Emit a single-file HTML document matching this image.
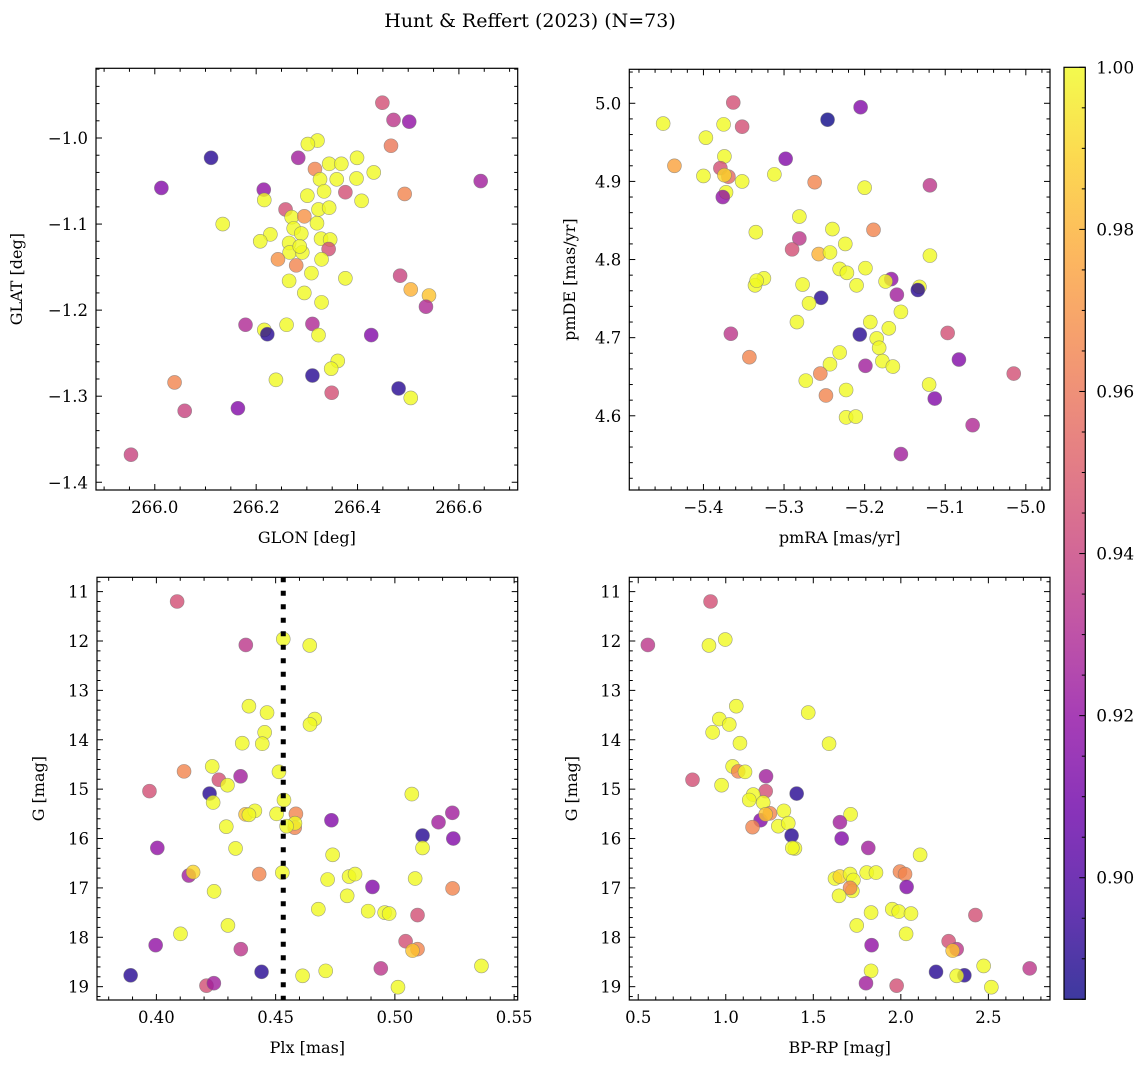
<!DOCTYPE html>
<html><head><meta charset="utf-8">
<style>
html,body{margin:0;padding:0;background:#fff;}
svg{display:block;font-family:"DejaVu Serif","Liberation Serif",serif;}
</style></head>
<body>
<svg id="fig" width="1148" height="1067" viewBox="0 0 1148 1067" xmlns="http://www.w3.org/2000/svg">
<text x="530" y="27" font-size="19" text-anchor="middle">Hunt &amp; Reffert (2023) (N=73)</text>
</svg>
<script>
// ---- Panel 1: GLON vs GLAT ----
const glon1 = [266.449,266.471,266.502,266.466,266.321,266.302,266.111,266.283,266.316,266.344,266.368,266.399,266.432,266.326,266.359,266.398,266.643,266.013,266.215,266.216,266.376,266.493,266.301,266.334,266.408,266.323,266.344,266.258,266.270,266.295,266.320,266.134,266.274,266.289,266.228,266.208,266.265,266.328,266.346,266.343,266.266,266.291,266.286,266.243,266.279,266.329,266.309,266.376,266.265,266.484,266.505,266.541,266.535,266.295,266.329,266.179,266.216,266.222,266.260,266.311,266.323,266.427,266.361,266.348,266.239,266.311,266.349,266.481,266.505,266.039,266.059,266.164,265.953];
const glat1 = [-0.959,-0.979,-0.981,-1.009,-1.003,-1.007,-1.023,-1.023,-1.036,-1.030,-1.030,-1.023,-1.040,-1.048,-1.048,-1.047,-1.050,-1.058,-1.060,-1.072,-1.063,-1.065,-1.067,-1.062,-1.073,-1.083,-1.081,-1.083,-1.092,-1.091,-1.099,-1.100,-1.105,-1.111,-1.112,-1.120,-1.122,-1.117,-1.118,-1.129,-1.133,-1.133,-1.126,-1.141,-1.148,-1.141,-1.157,-1.163,-1.166,-1.160,-1.176,-1.183,-1.196,-1.180,-1.191,-1.217,-1.223,-1.228,-1.217,-1.216,-1.229,-1.229,-1.259,-1.268,-1.281,-1.276,-1.296,-1.291,-1.302,-1.284,-1.317,-1.314,-1.368];
const prob1 = [.945,.935,.92,.96,1,1,.89,.925,.965,1,1,1,1,1,1,1,.925,.915,.92,1,.945,.965,1,1,1,1,1,.945,1,.97,1,1,1,1,1,1,1,1,1,.945,1,1,1,.97,.965,1,1,1,1,.94,.98,.985,.93,1,1,.93,1,.89,1,.93,1,.915,1,1,1,.89,.945,.89,1,.965,.94,.915,.94];
const xticks1 = ["266.0","266.2","266.4","266.6"];
const yticks1 = ["−1.0","−1.1","−1.2","−1.3","−1.4"];

// ---- Panel 2: pmRA vs pmDE ----
const pmra2 = [-5.450,-5.363,-5.352,-5.375,-5.397,-5.374,-5.436,-5.400,-5.379,-5.369,-5.374,-5.352,-5.372,-5.376,-5.312,-5.298,-5.246,-5.205,-5.262,-5.200,-5.119,-5.281,-5.335,-5.240,-5.189,-5.281,-5.290,-5.257,-5.243,-5.224,-5.119,-5.231,-5.222,-5.199,-5.325,-5.336,-5.334,-5.277,-5.210,-5.167,-5.174,-5.132,-5.134,-5.160,-5.254,-5.269,-5.155,-5.193,-5.284,-5.170,-5.206,-5.366,-5.097,-5.185,-5.182,-5.231,-5.343,-5.243,-5.178,-5.165,-5.199,-5.083,-5.255,-5.273,-5.015,-5.120,-5.223,-5.248,-5.113,-5.223,-5.211,-5.066,-5.155];
const pmde2 = [4.974,5.001,4.970,4.973,4.956,4.932,4.920,4.907,4.917,4.906,4.908,4.900,4.886,4.880,4.909,4.929,4.979,4.995,4.899,4.892,4.895,4.855,4.835,4.839,4.838,4.827,4.813,4.807,4.809,4.820,4.805,4.788,4.783,4.789,4.776,4.767,4.773,4.768,4.767,4.775,4.772,4.765,4.761,4.755,4.751,4.744,4.733,4.720,4.720,4.712,4.704,4.705,4.706,4.699,4.687,4.681,4.675,4.666,4.670,4.663,4.664,4.672,4.654,4.645,4.654,4.640,4.633,4.626,4.622,4.598,4.599,4.588,4.551];
const prob2 = [1,.945,.945,1,1,1,.975,1,.945,.955,.99,1,1,.92,1,.915,.885,.915,.965,1,.935,1,1,1,.965,.935,.945,.98,1,1,1,1,1,1,1,1,1,1,1,.92,1,1,.89,.925,.89,1,1,1,1,1,.89,.935,.945,1,1,1,.965,1,1,1,.925,.915,.965,1,.945,1,1,.965,.915,1,1,.93,.925];
const xticks2 = ["−5.4","−5.3","−5.2","−5.1","−5.0"];
const yticks2 = ["5.0","4.9","4.8","4.7","4.6"];

// ---- Panel 3: Plx vs G ----
const plx3 = [0.4087,0.4375,0.4532,0.4643,0.4388,0.4464,0.4664,0.4644,0.4454,0.4360,0.4444,0.4234,0.4116,0.4353,0.4262,0.4298,0.4514,0.3971,0.4223,0.4238,0.4535,0.4374,0.4413,0.4504,0.4585,0.4580,0.4581,0.4546,0.4734,0.5071,0.5241,0.5183,0.5116,0.5245,0.5116,0.4293,0.4004,0.4332,0.4739,0.4136,0.4154,0.4431,0.4528,0.4718,0.4808,0.4833,0.4906,0.5085,0.5242,0.4242,0.4800,0.4679,0.4888,0.4957,0.4976,0.5095,0.4300,0.4101,0.3997,0.4354,0.5045,0.5095,0.5074,0.5363,0.3892,0.4441,0.4613,0.4710,0.4941,0.4210,0.4241,0.5013,0.4388];
const gmag3 = [11.20,12.08,11.96,12.09,13.32,13.45,13.58,13.69,13.85,14.07,14.08,14.54,14.64,14.74,14.81,14.92,14.65,15.04,15.09,15.27,15.22,15.51,15.44,15.50,15.50,15.78,15.69,15.75,15.63,15.10,15.48,15.67,15.94,16.00,16.19,15.76,16.19,16.20,16.33,16.75,16.68,16.72,16.69,16.83,16.77,16.72,16.98,16.81,17.01,17.07,17.16,17.43,17.47,17.50,17.52,17.55,17.76,17.93,18.16,18.24,18.08,18.24,18.27,18.58,18.77,18.70,18.78,18.68,18.63,18.98,18.93,19.01,15.52];
const prob3 = [.945,.935,1,1,1,1,1,1,1,1,1,1,.965,.925,.945,1,1,.945,.89,1,1,.985,1,1,.965,.965,1,1,.915,1,.925,.925,.89,.915,1,1,.92,1,1,.925,.99,.965,1,1,1,1,.915,1,.965,1,1,1,1,1,1,.945,1,1,.92,.935,.945,.965,.985,1,.89,.89,1,1,.935,.945,.925,1,1];
const plxLine = [0.4532];
const xticks3 = ["0.40","0.45","0.50","0.55"];
const yticks3 = ["11","12","13","14","15","16","17","18","19"];

// ---- Panel 4: BP-RP vs G ----
const bprp4 = [0.913,0.555,0.904,0.997,1.060,0.963,1.020,0.925,1.471,1.081,1.590,1.039,1.071,1.110,1.230,0.810,0.976,1.228,1.405,1.157,1.134,1.214,1.199,1.252,1.228,1.332,1.153,1.300,1.357,1.713,1.652,1.376,1.662,1.395,1.380,1.814,2.110,1.624,1.652,1.710,1.729,1.805,1.858,1.995,2.024,2.033,1.723,1.710,1.647,1.830,1.951,1.988,2.058,1.748,2.030,1.833,2.273,2.319,2.296,2.426,2.473,2.201,2.363,2.319,1.830,2.736,1.801,1.976,2.517];
const gmag4 = [11.20,12.08,12.09,11.97,13.32,13.58,13.69,13.85,13.45,14.07,14.08,14.54,14.64,14.65,14.74,14.81,14.92,15.04,15.09,15.11,15.22,15.27,15.63,15.49,15.51,15.44,15.77,15.75,15.69,15.51,15.67,15.94,16.00,16.20,16.19,16.19,16.33,16.81,16.77,16.72,16.84,16.69,16.69,16.67,16.72,16.98,17.06,17.00,17.16,17.50,17.43,17.48,17.52,17.76,17.93,18.16,18.08,18.24,18.27,17.55,18.58,18.70,18.77,18.78,18.68,18.63,18.93,18.98,19.01];
const prob4 = [.945,.935,1,1,1,1,1,1,1,1,1,1,.965,1,.925,.945,1,.945,.89,1,1,1,.915,.965,.985,1,.965,1,1,1,.925,.89,.915,1,1,.925,1,1,.99,1,1,1,1,.965,.965,.915,1,.965,1,1,1,1,1,1,1,.92,.945,.935,.985,.945,1,.89,.89,1,1,.935,.925,.945,1];
const xticks4 = ["0.5","1.0","1.5","2.0","2.5"];
const yticks4 = yticks3;

const cbTicks = ["0.90","0.92","0.94","0.96","0.98","1.00"];
</script>
<script>
const NS="http://www.w3.org/2000/svg";
const svg=document.getElementById('fig');
function mk(tag,attrs,parent){const e=document.createElementNS(NS,tag);for(const k in attrs)e.setAttribute(k,attrs[k]);(parent||svg).appendChild(e);return e;}
const VMIN=0.885,VMAX=1.0;
const stops=[[13,8,135],[65,4,157],[106,0,168],[143,13,164],[177,42,144],[204,71,120],[225,100,98],[242,132,75],[252,166,54],[252,206,37],[240,249,33]];
function plasma(t){t=Math.max(0,Math.min(1,t));const f=t*10,i=Math.min(9,Math.floor(f)),r=f-i;const a=stops[i],b=stops[i+1];
 return 'rgb('+[0,1,2].map(k=>Math.round(a[k]+(b[k]-a[k])*r)).join(',')+')';}

function panel(o){
 const g=mk('g',{});
 
 
 const sx=v=>o.L+(v-o.x0)/(o.x1-o.x0)*(o.R-o.L);
 const sy=v=>o.T+(o.y1-v)/(o.y1-o.y0)*(o.B-o.T);
 const pg=mk('g',{},g);
 
 
 for(let i=0;i<o.xs.length;i++){
  const c=mk('circle',{cx:sx(o.xs[i]),cy:sy(o.ys[i]),r:7,fill:plasma((o.cs[i]-VMIN)/(VMAX-VMIN)),'fill-opacity':0.8,stroke:'#777','stroke-opacity':0.7,'stroke-width':0.6},pg);
  
  
 }
 if(o.vline){for(const v of o.vline){const l=mk('line',{x1:sx(v),x2:sx(v),y1:o.T,y2:o.B,stroke:'#000','stroke-width':5,'stroke-dasharray':'5,8.5'},g);
  
  }}
 const fr=mk('rect',{x:o.L,y:o.T,width:o.R-o.L,height:o.B-o.T,fill:'none',stroke:'#000','stroke-width':1.2},g);
 
 
 const tk=mk('g',{stroke:'#000','stroke-width':1},g);
 const eps=1e-9;
 for(let v=Math.ceil(o.x0/o.xmin-eps)*o.xmin; v<=o.x1+eps; v+=o.xmin){
  const x=sx(v); const major=Math.abs(v/o.xmaj-Math.round(v/o.xmaj))<1e-4; const len=major?6:3.5;
  mk('line',{x1:x,x2:x,y1:o.B,y2:o.B-len},tk); mk('line',{x1:x,x2:x,y1:o.T,y2:o.T+len},tk);}
 for(let v=Math.ceil(o.y0/o.ymin-eps)*o.ymin; v<=o.y1+eps; v+=o.ymin){
  const y=sy(v); const major=Math.abs(v/o.ymaj-Math.round(v/o.ymaj))<1e-4; const len=major?6:3.5;
  mk('line',{x1:o.L,x2:o.L+len,y1:y,y2:y},tk); mk('line',{x1:o.R,x2:o.R-len,y1:y,y2:y},tk);}
 o.xlab.forEach((s,i)=>{const t=mk('text',{x:sx(o.xstart+i*o.xmaj),y:o.B+23,'font-size':16.5,'text-anchor':'middle'},g);t.textContent=s;
  });
 o.ylab.forEach((s,i)=>{const t=mk('text',{x:o.L-8,y:sy(o.ystart+i*o.ydir*o.ymaj)+6,'font-size':16.5,'text-anchor':'end'},g);t.textContent=s;
  });
 const xt=mk('text',{x:(o.L+o.R)/2,y:o.B+53,'font-size':16,'text-anchor':'middle'},g);xt.textContent=o.xtitle;
 
 const yx=o.ytx, yy=(o.T+o.B)/2;
 const yt=mk('text',{x:yx,y:yy,'font-size':16,'text-anchor':'middle',transform:'rotate(-90 '+yx+' '+yy+')'},g);yt.textContent=o.ytitle;
 
}

panel({name:'glon-glat-panel',L:96,R:517.7,T:68.3,B:490,x0:265.884,x1:266.716,y0:-1.409,y1:-0.919,
 xmin:0.05,xmaj:0.2,ymin:0.02,ymaj:0.1,xs:glon1,ys:glat1,cs:prob1,xlab:xticks1,xstart:266.0,ylab:yticks1,ystart:-1.0,ydir:-1,
 xtitle:'GLON [deg]',ytitle:'GLAT [deg]',ytx:22});
panel({name:'proper-motion-panel',L:629.3,R:1050,T:69.3,B:490,x0:-5.492,x1:-4.970,y0:4.505,y1:5.0435,
 xmin:0.02,xmaj:0.1,ymin:0.02,ymaj:0.1,xs:pmra2,ys:pmde2,cs:prob2,xlab:xticks2,xstart:-5.4,ylab:yticks2,ystart:5.0,ydir:-1,
 xtitle:'pmRA [mas/yr]',ytitle:'pmDE [mas/yr]',ytx:575});
panel({name:'parallax-magnitude-panel',L:97,R:517.7,T:577.3,B:1000,x0:0.3751,x1:0.5515,y0:-19.27,y1:-10.71,
 xmin:0.01,xmaj:0.05,ymin:0.2,ymaj:1,xs:plx3,ys:gmag3.map(v=>-v),cs:prob3,xlab:xticks3,xstart:0.40,ylab:yticks3,ystart:-11,ydir:-1,vline:plxLine,
 xtitle:'Plx [mas]',ytitle:'G [mag]',ytx:44});
panel({name:'color-magnitude-panel',L:629.3,R:1050,T:577.3,B:1000,x0:0.449,x1:2.852,y0:-19.27,y1:-10.71,
 xmin:0.1,xmaj:0.5,ymin:0.2,ymaj:1,xs:bprp4,ys:gmag4.map(v=>-v),cs:prob4,xlab:xticks4,xstart:0.5,ylab:yticks4,ystart:-11,ydir:-1,
 xtitle:'BP-RP [mag]',ytitle:'G [mag]',ytx:577});

(function(){
 const L=1064,R=1085.3,T=67.3,B=999.3;
 const cg=mk('g',{});
 
 
 const defs=mk('defs',{},cg);
 const lg=mk('linearGradient',{id:'cbg',x1:0,y1:1,x2:0,y2:0},defs);
 for(let i=0;i<=20;i++){mk('stop',{offset:i/20,'stop-color':plasma(i/20)},lg);}
 const r=mk('rect',{x:L,y:T,width:R-L,height:B-T,fill:'url(#cbg)','fill-opacity':0.8},cg);
 
 mk('rect',{x:L,y:T,width:R-L,height:B-T,fill:'none',stroke:'#000','stroke-width':1.2},cg);
 const sy=v=>B-(v-VMIN)/(VMAX-VMIN)*(B-T);
 for(let v=0.885;v<=1.0001;v+=0.005){const y=sy(v);const major=Math.abs(v*50-Math.round(v*50))<1e-4;
  mk('line',{x1:R,x2:R-(major?6:3.5),y1:y,y2:y,stroke:'#000','stroke-width':1},cg);}
 cbTicks.forEach((s,i)=>{const t=mk('text',{x:R+11,y:sy(0.90+i*0.02)+6,'font-size':17},cg);t.textContent=s;
  });
})();
</script>
</body></html>
